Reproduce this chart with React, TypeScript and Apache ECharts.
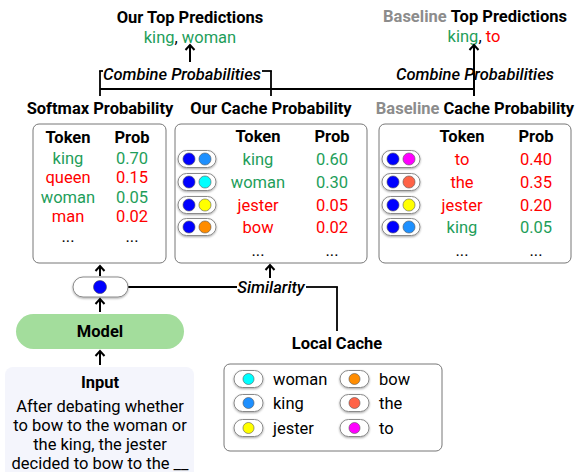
import React, { useEffect, useRef } from "react";
import * as echarts from "echarts";

const GREEN = "#1e9e5a";
const RED = "#ff0000";
const QUERY_COLOR = "#0000ff";
const FONT = "Roboto";
const FS = 16.5;

const ourTop = ["king", "woman"];
const ourTopCorrect = [true, true];
const baseTop = ["king", "to"];
const baseTopCorrect = [true, false];

const softmaxTokens = ["king", "queen", "woman", "man"];
const softmaxProbs = ["0.70", "0.15", "0.05", "0.02"];
const softmaxCorrect = [true, false, true, false];

const ourCacheTokens = ["king", "woman", "jester", "bow"];
const ourCacheProbs = ["0.60", "0.30", "0.05", "0.02"];
const ourCacheCorrect = [true, true, false, false];

const baseCacheTokens = ["to", "the", "jester", "king"];
const baseCacheProbs = ["0.40", "0.35", "0.20", "0.05"];
const baseCacheCorrect = [false, false, false, true];

const cacheWords = ["woman", "king", "jester", "bow", "the", "to"];
const cacheColors = ["#00ffff", "#1e90ff", "#ffff00", "#ff8c00", "#ff6347", "#ff00ff"];

const inputLines = [
  "After debating whether",
  "to bow to the woman or",
  "the king, the jester",
  "decided to bow to the __",
];

const colorOf = (w: string) => cacheColors[cacheWords.indexOf(w)];

function txt(text: string, x: number, y: number, o: any = {}) {
  return {
    type: "text",
    style: {
      text,
      x,
      y,
      fill: o.fill || "#000",
      fontSize: o.fontSize || FS,
      fontWeight: o.fontWeight || "normal",
      fontStyle: o.fontStyle || "normal",
      fontFamily: FONT,
      align: o.align || "center",
      verticalAlign: "middle",
      rich: o.rich,
    },
  };
}

function line(x1: number, y1: number, x2: number, y2: number, w = 1.8) {
  return { type: "line", shape: { x1, y1, x2, y2 }, style: { stroke: "#000", lineWidth: w } };
}

function arrowUp(x: number, yBottom: number, yTop: number) {
  return [
    line(x, yBottom, x, yTop + 1, 2),
    {
      type: "polyline",
      shape: { points: [[x - 4.5, yTop + 5], [x, yTop], [x + 4.5, yTop + 5]] },
      style: { stroke: "#000", lineWidth: 2, fill: null },
    },
  ];
}

function pill(x: number, y: number, w: number, h: number) {
  return {
    type: "rect",
    shape: { x, y, width: w, height: h, r: h / 2 },
    style: {
      fill: "#fff",
      stroke: "#8a8a8a",
      lineWidth: 1,
      shadowBlur: 2,
      shadowOffsetY: 1,
      shadowColor: "rgba(0,0,0,0.35)",
    },
  };
}

function dot(cx: number, cy: number, r: number, fill: string) {
  return { type: "circle", shape: { cx, cy, r }, style: { fill, stroke: "#555", lineWidth: 0.6 } };
}

function box(x: number, y: number, w: number, h: number) {
  return {
    type: "rect",
    shape: { x, y, width: w, height: h, r: 6 },
    style: { fill: "#fff", stroke: "#777", lineWidth: 1 },
  };
}

function predText(words: string[], correct: boolean[]) {
  return words.map((w, i) => `{${correct[i] ? "g" : "r"}|${w}}`).join("{k|, }");
}

const predRich = {
  g: { fill: GREEN, fontSize: FS, fontFamily: FONT },
  r: { fill: RED, fontSize: FS, fontFamily: FONT },
  k: { fill: "#000", fontSize: FS, fontFamily: FONT },
};

const baselineRich = {
  a: { fill: "#8c8c8c", fontWeight: "bold", fontSize: FS, fontFamily: FONT },
  b: { fill: "#000", fontWeight: "bold", fontSize: FS, fontFamily: FONT },
};

function buildElements() {
  const els: any[] = [];

  // Top predictions
  els.push(txt("Our Top Predictions", 190, 17, { fontWeight: "bold" }));
  els.push(txt(predText(ourTop, ourTopCorrect), 190, 37, { rich: predRich }));
  els.push(txt("{a|Baseline} {b|Top Predictions}", 475, 16, { fontWeight: "bold", rich: baselineRich }));
  els.push(txt(predText(baseTop, baseTopCorrect), 474, 36, { rich: predRich }));

  // Combine brackets
  els.push(...arrowUp(190, 62, 45));
  els.push(line(100, 89, 474, 89));
  els.push(line(100, 96, 100, 71));
  els.push(line(99.1, 71, 103, 71));
  els.push(line(271, 96, 271, 71));
  els.push(line(262, 71, 271.9, 71));
  els.push(...arrowUp(474, 96, 45));
  els.push(txt("Combine Probabilities", 182, 74, { fontStyle: "italic", fontWeight: 500 }));
  els.push(txt("Combine Probabilities", 475, 74, { fontStyle: "italic", fontWeight: 500 }));

  // Headers
  els.push(txt("Softmax Probability", 100, 108, { fontWeight: "bold" }));
  els.push(txt("Our Cache Probability", 271, 108, { fontWeight: "bold" }));
  els.push(txt("{a|Baseline} {b|Cache Probability}", 475, 108, { fontWeight: "bold", rich: baselineRich }));

  // Box 1: softmax
  els.push(box(33, 124, 133, 139));
  els.push(txt("Token", 68, 137, { fontWeight: "bold" }));
  els.push(txt("Prob", 132, 137, { fontWeight: "bold" }));
  const rows1 = [158, 177.5, 197, 216.5];
  softmaxTokens.forEach((t, i) => {
    const c = softmaxCorrect[i] ? GREEN : RED;
    els.push(txt(t, 68, rows1[i], { fill: c }));
    els.push(txt(softmaxProbs[i], 132, rows1[i], { fill: c }));
  });
  els.push(txt("...", 68, 236.5));
  els.push(txt("...", 132, 236.5));

  // Box 2 & 3: caches
  const rows2 = [159, 182, 205, 227];
  const cacheBox = (bx: number, tokens: string[], probs: string[], correct: boolean[]) => {
    els.push(box(bx, 124, 192, 139));
    const tokX = bx + 83;
    const probX = bx + 157;
    els.push(txt("Token", tokX, 136, { fontWeight: "bold" }));
    els.push(txt("Prob", probX, 136, { fontWeight: "bold" }));
    tokens.forEach((t, i) => {
      const y = rows2[i];
      els.push(pill(bx + 3, y - 8.5, 38, 17));
      els.push(dot(bx + 14, y, 6, QUERY_COLOR));
      els.push(dot(bx + 30, y, 6, colorOf(t)));
      const c = correct[i] ? GREEN : RED;
      els.push(txt(t, tokX, y, { fill: c }));
      els.push(txt(probs[i], probX, y, { fill: c }));
    });
    els.push(txt("...", tokX, 250));
    els.push(txt("...", probX, 250));
  };
  cacheBox(175, ourCacheTokens, ourCacheProbs, ourCacheCorrect);
  cacheBox(379, baseCacheTokens, baseCacheProbs, baseCacheCorrect);

  // Query vector and model
  els.push(...arrowUp(100, 276, 266));
  els.push(line(128, 287, 237, 287));
  els.push(line(306, 287, 337.9, 287));
  els.push(line(337, 287, 337, 331));
  els.push(txt("Similarity", 271, 287, { fontStyle: "italic", fontWeight: 500 }));
  els.push(...arrowUp(270, 278, 265));
  els.push(pill(73, 277, 55, 20));
  els.push(dot(100, 287, 6.5, QUERY_COLOR));
  els.push(...arrowUp(100, 312, 299));
  els.push({
    type: "rect",
    shape: { x: 16, y: 314, width: 168, height: 35, r: 17.5 },
    style: { fill: "#a3dd9c" },
  });
  els.push(txt("Model", 100, 331, { fontWeight: "bold" }));
  els.push(...arrowUp(100, 365, 351));

  // Input
  els.push({
    type: "rect",
    shape: { x: 5, y: 367, width: 189, height: 120, r: 8 },
    style: { fill: "#f4f5fc" },
  });
  els.push(txt("Input", 100, 382, { fontWeight: "bold" }));
  inputLines.forEach((l, i) => els.push(txt(l, 100, 406 + i * 19.2)));

  // Local cache
  els.push(txt("Local Cache", 337, 343, { fontWeight: "bold" }));
  els.push(box(224, 364, 218, 87));
  const lcRows = [379, 403, 428];
  cacheWords.forEach((w, i) => {
    const col = Math.floor(i / 3);
    const y = lcRows[i % 3];
    const px = col === 0 ? 234 : 340;
    els.push(pill(px, y - 8.5, 29, 17));
    els.push(dot(px + 14.5, y, 5.5, cacheColors[i]));
    els.push(txt(w, px + 39, y, { align: "left" }));
  });

  return els;
}

export default function App() {
  const ref = useRef<HTMLDivElement>(null);
  useEffect(() => {
    if (!ref.current) return;
    const chart = echarts.init(ref.current, undefined, { renderer: "svg" });
    chart.setOption({
      animation: false,
      backgroundColor: "#fff",
      graphic: { elements: buildElements() },
    });
    return () => chart.dispose();
  }, []);
  return (
    <div
      ref={ref}
      style={{ position: "fixed", left: 0, top: 0, width: 576, height: 472 }}
    />
  );
}
